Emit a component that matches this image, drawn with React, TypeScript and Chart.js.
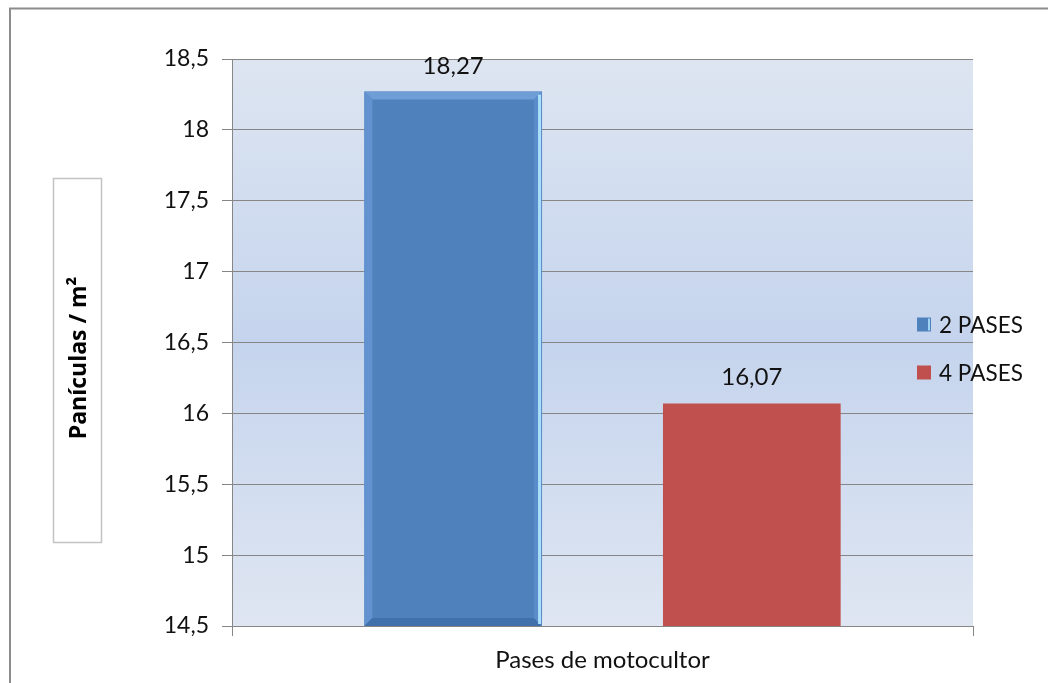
import React, { useEffect, useRef } from 'react';
import { Chart, registerables } from 'chart.js';

Chart.register(...registerables);

const categories = ['Pases de motocultor'];
const seriesNames = ['2 PASES', '4 PASES'];
const pases2 = [18.27];
const pases4 = [16.07];
const seriesColors = ['#4F81BD', '#C0504D'];
const yMin = 14.5;
const yMax = 18.5;
const yStep = 0.5;
const yTitle = 'Panículas / m²';

const FONT = 'Lato, "Open Sans", sans-serif';
const fmt = (v: number) => String(v).replace('.', ',');

const decor = {
  id: 'decor',
  beforeDraw(chart: any) {
    const { ctx, chartArea: a, width, height } = chart;
    ctx.save();
    ctx.fillStyle = '#ffffff';
    ctx.fillRect(0, 0, width, height);
    const g = ctx.createLinearGradient(0, a.top, 0, a.bottom);
    g.addColorStop(0, '#dde5f1');
    g.addColorStop(0.5, '#c5d4ed');
    g.addColorStop(1, '#dfe6f2');
    ctx.fillStyle = g;
    ctx.fillRect(a.left, a.top, a.right - a.left, a.bottom - a.top);
    ctx.strokeStyle = '#8c8c8c';
    ctx.lineWidth = 2;
    ctx.strokeRect(10, 8.5, width + 20, height + 20);
    ctx.strokeStyle = '#c3c3c3';
    ctx.lineWidth = 1.5;
    ctx.strokeRect(53.5, 178.5, 48, 364);
    ctx.translate(79, 358);
    ctx.rotate(-Math.PI / 2);
    ctx.fillStyle = '#000';
    ctx.font = `bold 23px "Open Sans", sans-serif`;
    ctx.textAlign = 'center';
    ctx.textBaseline = 'middle';
    ctx.fillText(yTitle, 0, 0);
    ctx.restore();
  },
  afterDatasetsDraw(chart: any) {
    const { ctx, chartArea: a } = chart;
    ctx.save();
    // bevel on first series
    const meta0 = chart.getDatasetMeta(0);
    meta0.data.forEach((el: any) => {
      const p = el.getProps(['x', 'y', 'base', 'width'], true);
      const l = p.x - p.width / 2, r = p.x + p.width / 2, t = p.y, b = Math.min(p.base, a.bottom);
      const w = 8;
      const poly = (pts: number[][], col: string) => {
        ctx.beginPath();
        ctx.moveTo(pts[0][0], pts[0][1]);
        for (let i = 1; i < pts.length; i++) ctx.lineTo(pts[i][0], pts[i][1]);
        ctx.closePath();
        ctx.fillStyle = col;
        ctx.fill();
      };
      poly([[l, t], [r, t], [r - w, t + w], [l + w, t + w]], '#6f9dd5');
      poly([[l, t], [l + w, t + w], [l + w, b - w], [l, b]], '#6292cf');
      poly([[l, b], [r, b], [r - w, b - w], [l + w, b - w]], '#4171ab');
      poly([[r, t], [r, b], [r - w, b - w], [r - w, t + w]], '#5a8ccb');
      ctx.fillStyle = '#a9dffa';
      ctx.fillRect(r - 4, t + 3, 3, b - t - 5);
    });
    // value labels
    ctx.fillStyle = '#111';
    ctx.font = `24px ${FONT}`;
    ctx.textAlign = 'center';
    ctx.textBaseline = 'alphabetic';
    chart.data.datasets.forEach((ds: any, i: number) => {
      chart.getDatasetMeta(i).data.forEach((el: any, j: number) => {
        ctx.fillText(fmt(ds.data[j]), el.x, el.y - 18);
      });
    });
    // legend
    const cy = (a.top + a.bottom) / 2;
    const ys = [cy - 18, cy + 30];
    ctx.font = `22.5px ${FONT}`;
    ctx.textAlign = 'left';
    ctx.textBaseline = 'middle';
    chart.data.datasets.forEach((ds: any, i: number) => {
      const y = ys[i];
      ctx.fillStyle = ds.backgroundColor;
      ctx.fillRect(917, y - 7, 14, 14);
      if (i === 0) {
        ctx.fillStyle = '#9fd3f3';
        ctx.fillRect(928, y - 6, 2, 12);
      }
      ctx.fillStyle = '#111';
      ctx.fillText(ds.label, 939, y + 1);
    });
    ctx.restore();
  },
};

export default function App() {
  const ref = useRef<HTMLCanvasElement>(null);
  useEffect(() => {
    document.body.style.margin = '0';
    const chart = new Chart(ref.current as HTMLCanvasElement, {
      type: 'bar',
      data: {
        labels: categories,
        datasets: [
          { label: seriesNames[0], data: pases2, backgroundColor: seriesColors[0] },
          { label: seriesNames[1], data: pases4, backgroundColor: seriesColors[1] },
        ],
      },
      options: {
        animation: false,
        responsive: false,
        devicePixelRatio: 1,
        categoryPercentage: 0.806,
        barPercentage: 0.595,
        layout: { padding: { top: 59, right: 75, left: 0, bottom: 0 } },
        plugins: { legend: { display: false }, tooltip: { enabled: false } },
        scales: {
          x: {
            grid: { display: true, drawOnChartArea: false, color: '#868686', tickLength: 10, offset: true },
            border: { display: true, color: '#868686' },
            ticks: { color: '#111', font: { family: FONT, size: 24 }, padding: 10 },
            afterFit: (s: any) => { s.height = 57; },
          },
          y: {
            min: yMin,
            max: yMax,
            ticks: {
              stepSize: yStep,
              color: '#111',
              font: { family: FONT, size: 23 },
              padding: 13,
              callback: (v: any) => fmt(Number(v)),
            },
            grid: { color: '#868686', tickLength: 10 },
            border: { display: true, color: '#868686' },
            afterFit: (s: any) => { s.width = 232; },
          },
        },
      },
      plugins: [decor],
    });
    return () => chart.destroy();
  }, []);
  return (
    <div style={{ position: 'fixed', left: 0, top: 0, width: 1048, height: 683 }}>
      <canvas ref={ref} width={1048} height={683} />
    </div>
  );
}
